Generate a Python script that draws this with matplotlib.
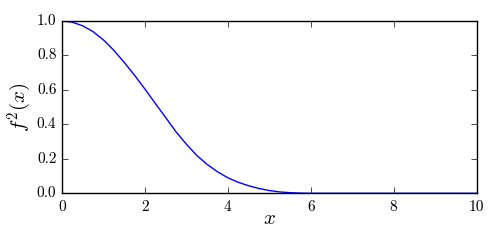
import numpy as np
import matplotlib
matplotlib.use('Agg')
import matplotlib.pyplot as plt

# values
x_vals = [0.0, 0.25, 0.5, 0.75, 1.0, 1.25, 1.5, 1.75, 2.0, 2.25, 2.5, 2.75,
          3.0, 3.25, 3.5, 3.75, 4.0, 4.25, 4.5, 4.75, 5.0, 5.25, 5.5, 5.75,
          6.0, 10.0]
f2_vals = [1.0, 0.993, 0.972, 0.938, 0.89, 0.83, 0.76, 0.685, 0.605, 0.522,
           0.44, 0.357, 0.285, 0.22, 0.168, 0.125, 0.09, 0.064, 0.044,
           0.028, 0.016, 0.008, 0.0035, 0.001, 0.0, 0.0]

x_ticks = [0, 2, 4, 6, 8, 10]
y_ticks = [0.0, 0.2, 0.4, 0.6, 0.8, 1.0]

plt.style.use('classic')
plt.rcParams['font.family'] = 'serif'
plt.rcParams['font.serif'] = ['cmr10']
plt.rcParams['mathtext.fontset'] = 'cm'
plt.rcParams['axes.formatter.use_mathtext'] = True

fig = plt.figure(figsize=(4.98, 2.49), dpi=100)
fig.patch.set_facecolor('white')
ax = fig.add_axes([0.1245, 0.2237, 0.8325, 0.692])

ax.plot(x_vals, f2_vals, color='b', lw=1.0)

ax.set_xlim(0, 10)
ax.set_ylim(0, 1)
ax.set_xticks(x_ticks)
ax.set_yticks(y_ticks)
ax.set_xticklabels(['%d' % t for t in x_ticks])
ax.set_yticklabels(['%.1f' % t for t in y_ticks])
ax.tick_params(labelsize=11, length=4, direction='in', top=True, right=True)
ax.tick_params(axis='x', pad=5)

ax.set_xlabel(r'$x$', fontsize=15, labelpad=-3)
ax.set_ylabel(r'$f^2(x)$', fontsize=15, labelpad=2)

fig.savefig('out.png', dpi=100, facecolor='white')
